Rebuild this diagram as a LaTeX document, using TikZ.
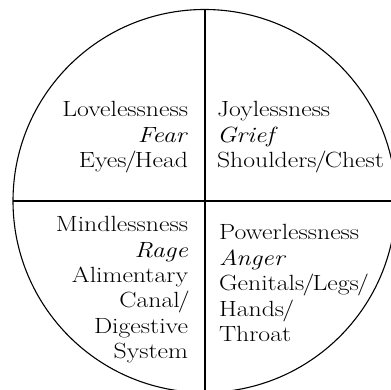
\documentclass[tikz,border=0pt]{standalone}
\usepackage{fontspec}
\usepackage{graphicx}
\newcommand\qtext[2]{\scalebox{1.17}[1]{\begin{tabular}[t]{@{}#1@{}}#2\end{tabular}}}
\newcommand\qsl{\kern-0.07em/\kern-0.07em}
\tikzset{
  rim/.style={line width=1.1pt, black},
  quad/.style={inner sep=0pt, outer sep=0pt, font=\fontsize{22}{25.4}\selectfont}
}
\begin{document}
\begin{tikzpicture}[x=1pt,y=1pt]
\useasboundingbox (0,0) rectangle (391,390);
\clip (0,0) rectangle (391,390);
\fill[white] (0,0) rectangle (391,390);
\coordinate (c) at (204.5,189);
\coordinate (top) at (205,380.5);
\coordinate (bot) at (205,-2);
\coordinate (lft) at (13,189);
\coordinate (rgt) at (393,189);
\draw[rim] (c) circle (191.5);
\draw[rim] (top) -- (bot);
\draw[rim] (lft) -- (rgt);
\node[quad, anchor=base east] (ul) at (188,273) {\qtext{r}{Lovelessness\\\textit{Fear}\\Eyes\qsl Head}};
\node[quad, anchor=base west] (ur) at (217,273) {\qtext{l}{Joylessness\\\textit{Grief}\\Shoulders\qsl Chest}};
\node[quad, anchor=base east] (ll) at (188,158.3) {\qtext{r}{Mindlessness\\\textit{Rage}\\Alimentary\\Canal\qsl\\Digestive\\System}};
\node[quad, anchor=base west] (lr) at (219,150) {\qtext{l}{Powerlessness\\\textit{Anger}\\Genitals\qsl Legs\qsl\\Hands\qsl\\Throat}};
\end{tikzpicture}
\end{document}
